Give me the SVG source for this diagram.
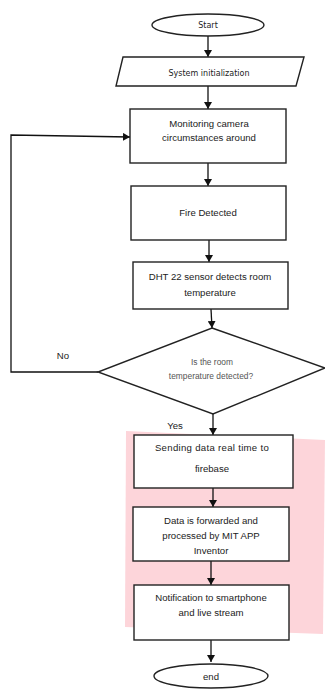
<svg xmlns="http://www.w3.org/2000/svg" width="325" height="689" viewBox="0 0 325 689">
<style>
.shape{fill:#fff;stroke:#222;stroke-width:1.4}
.t{font-family:"Liberation Sans",Arial,sans-serif;font-size:9.6px;fill:#222;text-anchor:middle}
.v{font-family:"DejaVu Sans",Verdana,sans-serif;font-size:8px;fill:#222;text-anchor:middle}
.g{font-family:"Liberation Sans",Arial,sans-serif;font-size:8.4px;fill:#555;text-anchor:middle}
.c{fill:none;stroke:#111;stroke-width:1.3}
</style>
<defs>
<marker id="ah" markerWidth="8" markerHeight="8" refX="7" refY="4" orient="auto" markerUnits="userSpaceOnUse">
<path d="M0,0 L7,4 L0,8 Z" fill="#111"/>
</marker>
</defs>
<polygon points="126,431 325,440 323,634 125,627" fill="#fdd5da"/>
<g id="connectors">
<line class="c" x1="208" y1="36" x2="208" y2="57" marker-end="url(#ah)"/>
<line class="c" x1="208" y1="86" x2="208" y2="109" marker-end="url(#ah)"/>
<line class="c" x1="208" y1="163" x2="208" y2="186" marker-end="url(#ah)"/>
<line class="c" x1="209" y1="240" x2="209" y2="262" marker-end="url(#ah)"/>
<line class="c" x1="211" y1="309" x2="212" y2="328" marker-end="url(#ah)"/>
<polyline class="c" points="98,372 11,372 11,135 130,137" marker-end="url(#ah)"/>
<line class="c" x1="213" y1="414" x2="213" y2="435" marker-end="url(#ah)"/>
<line class="c" x1="213" y1="488" x2="213" y2="507" marker-end="url(#ah)"/>
<line class="c" x1="211" y1="561" x2="211" y2="585" marker-end="url(#ah)"/>
<line class="c" x1="211" y1="640" x2="211" y2="662" marker-end="url(#ah)"/>
<text class="t" x="63" y="359">No</text>
<text class="t" x="175" y="429">Yes</text>
</g>
<g id="start">
<ellipse class="shape" cx="208" cy="25" rx="56" ry="11"/>
<text class="v" x="208" y="28">Start</text>
</g>
<g id="init">
<polygon class="shape" points="123,57 304,57 296,86 116,86"/>
<text class="v" x="209" y="76">System initialization</text>
</g>
<g id="monitor">
<rect class="shape" x="130" y="109" width="156" height="54"/>
<text class="t" x="209" y="127">Monitoring camera</text>
<text class="t" x="209" y="141">circumstances around</text>
</g>
<g id="fire">
<rect class="shape" x="131" y="186" width="155" height="54"/>
<text class="t" x="208" y="216">Fire Detected</text>
</g>
<g id="dht">
<rect class="shape" x="133" y="262" width="155" height="47"/>
<text class="t" x="210" y="280">DHT 22 sensor detects room</text>
<text class="t" x="210" y="296">temperature</text>
</g>
<g id="decision">
<polygon class="shape" points="212,328 325,368 213,414 98,372"/>
<text class="g" x="212" y="365">Is the room</text>
<text class="g" x="211" y="379">temperature detected?</text>
</g>
<g id="send">
<rect class="shape" x="134" y="435" width="159" height="53"/>
<text class="t" x="212" y="451" letter-spacing="0.3">Sending data real time to</text>
<text class="t" x="212" y="472">firebase</text>
</g>
<g id="process">
<rect class="shape" x="133" y="507" width="156" height="54"/>
<text class="t" x="211" y="524">Data is forwarded and</text>
<text class="t" x="211" y="539">processed by MIT APP</text>
<text class="t" x="211" y="554">Inventor</text>
</g>
<g id="notify">
<rect class="shape" x="134" y="585" width="155" height="55"/>
<text class="t" x="211" y="601">Notification to smartphone</text>
<text class="t" x="211" y="616">and live stream</text>
</g>
<g id="end">
<ellipse class="shape" cx="211" cy="676" rx="57" ry="12"/>
<text class="t" x="211" y="680">end</text>
</g>
</svg>
